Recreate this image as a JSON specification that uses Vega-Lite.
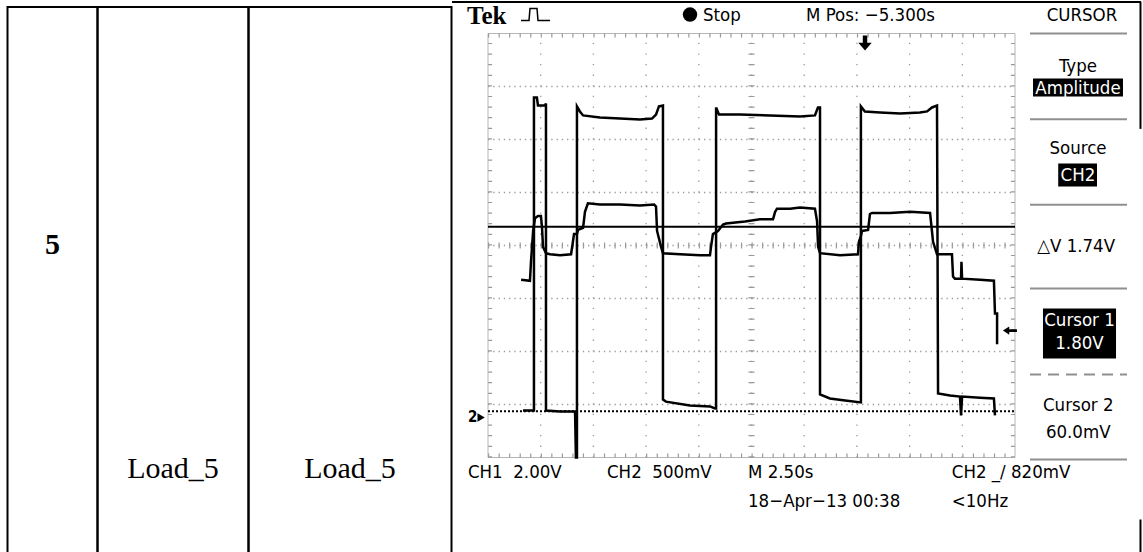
{
  "$schema": "https://vega.github.io/schema/vega-lite/v6.json",
  "background": "white",
  "padding": {"left": 6.5, "top": 0, "right": 0, "bottom": -4},
  "bounds": "flush",
  "spacing": 0,
  "config": {
    "view": {"stroke": "black", "strokeWidth": 2},
    "axis": {"disable": true},
    "legend": {"disable": true}
  },
  "hconcat": [
    {
      "width": 90, "height": 549,
      "data": {"values": [{"label": "5", "pos": 0.434}]},
      "mark": {"type": "text", "font": "Liberation Serif", "fontSize": 30, "fontWeight": "bold", "align": "center", "baseline": "middle", "color": "black"},
      "encoding": {
        "y": {"field": "pos", "type": "quantitative", "scale": {"domain": [0, 1], "reverse": true, "nice": false, "zero": false}},
        "text": {"field": "label"}
      }
    },
    {
      "width": 151, "height": 549,
      "data": {"values": [{"label": "Load_5", "pos": 0.841}]},
      "mark": {"type": "text", "font": "Liberation Serif", "fontSize": 30, "align": "center", "baseline": "middle", "color": "black"},
      "encoding": {
        "y": {"field": "pos", "type": "quantitative", "scale": {"domain": [0, 1], "reverse": true, "nice": false, "zero": false}},
        "text": {"field": "label"}
      }
    },
    {
      "width": 203, "height": 549,
      "data": {"values": [{"label": "Load_5", "pos": 0.841}]},
      "mark": {"type": "text", "font": "Liberation Serif", "fontSize": 30, "align": "center", "baseline": "middle", "color": "black"},
      "encoding": {
        "y": {"field": "pos", "type": "quantitative", "scale": {"domain": [0, 1], "reverse": true, "nice": false, "zero": false}},
        "text": {"field": "label"}
      }
    },
    {
      "width": 689, "height": 549,
      "view": {"stroke": null},
      "resolve": {"scale": {"x": "independent", "y": "independent"}},
      "layer": [
        {
          "layer": [
            {
              "data": {"values": [{"x0": 0, "x1": 10, "y0": 0, "y1": 8}]},
              "mark": {"type": "rect", "fill": "white", "fillOpacity": 0, "stroke": "#b5b5b5", "strokeWidth": 1},
              "encoding": {
                "x": {"field": "x0", "type": "quantitative", "scale": {"domain": [0, 10], "range": [36.5, 563.5], "nice": false, "zero": false}},
                "x2": {"field": "x1"},
                "y": {"field": "y0", "type": "quantitative", "scale": {"domain": [0, 8], "range": [450.5, 26.5], "nice": false, "zero": false}},
                "y2": {"field": "y1"}
              }
            },
            {
              "data": {"values": [{"gx": 1}, {"gx": 2}, {"gx": 3}, {"gx": 4}, {"gx": 5}, {"gx": 6}, {"gx": 7}, {"gx": 8}, {"gx": 9}]},
              "mark": {"type": "rule", "stroke": "#9a9a9a", "strokeWidth": 1.3, "strokeDash": [1.3, 9.3]},
              "encoding": {
                "x": {"field": "gx", "type": "quantitative"},
                "y": {"datum": 0, "type": "quantitative"},
                "y2": {"datum": 8}
              }
            },
            {
              "data": {"values": [{"gy": 1}, {"gy": 2}, {"gy": 3}, {"gy": 4}, {"gy": 5}, {"gy": 6}, {"gy": 7}]},
              "mark": {"type": "rule", "stroke": "#9a9a9a", "strokeWidth": 1.3, "strokeDash": [1.3, 3.97]},
              "encoding": {
                "y": {"field": "gy", "type": "quantitative"},
                "x": {"datum": 0, "type": "quantitative"},
                "x2": {"datum": 10}
              }
            },
            {
              "data": {"values": [{"gy": 4}]},
              "mark": {"type": "rule", "stroke": "#9a9a9a", "strokeWidth": 6, "strokeDash": [1.2, 9.34]},
              "encoding": {
                "y": {"field": "gy", "type": "quantitative"},
                "x": {"datum": 0, "type": "quantitative"},
                "x2": {"datum": 10}
              }
            },
            {
              "data": {"values": [{"gx": 5}]},
              "mark": {"type": "rule", "stroke": "#9a9a9a", "strokeWidth": 6, "strokeDash": [1.2, 9.4]},
              "encoding": {
                "x": {"field": "gx", "type": "quantitative"},
                "y": {"datum": 0, "type": "quantitative"},
                "y2": {"datum": 8}
              }
            },
            {
              "data": {"values": [{"gx": 0.04}, {"gx": 9.96}]},
              "mark": {"type": "rule", "stroke": "#9a9a9a", "strokeWidth": 4, "strokeDash": [1.2, 9.4]},
              "encoding": {
                "x": {"field": "gx", "type": "quantitative"},
                "y": {"datum": 0, "type": "quantitative"},
                "y2": {"datum": 8}
              }
            },
            {
              "data": {"values": [{"gy": 0.04}, {"gy": 7.96}]},
              "mark": {"type": "rule", "stroke": "#9a9a9a", "strokeWidth": 4, "strokeDash": [1.2, 9.34]},
              "encoding": {
                "y": {"field": "gy", "type": "quantitative"},
                "x": {"datum": 0, "type": "quantitative"},
                "x2": {"datum": 10}
              }
            },
            {
              "data": {"values": [{"gy": 8.0}, {"gy": 6.38}, {"gy": 4.77}, {"gy": 3.19}, {"gy": -0.04}]},
              "mark": {"type": "rule", "stroke": "#8f8f8f", "strokeWidth": 2},
              "encoding": {
                "y": {"field": "gy", "type": "quantitative"},
                "x": {"datum": 10.285, "type": "quantitative"},
                "x2": {"datum": 12.125}
              }
            },
            {
              "data": {"values": [{"gy": 1.566}]},
              "mark": {"type": "rule", "stroke": "#8f8f8f", "strokeWidth": 2, "strokeDash": [11, 7]},
              "encoding": {
                "y": {"field": "gy", "type": "quantitative"},
                "x": {"datum": 10.285, "type": "quantitative"},
                "x2": {"datum": 12.125}
              }
            },
            {
              "data": {"values": [
                {"item": "Amplitude", "x0": 10.342, "x1": 12.049, "y0": 6.811, "y1": 7.151},
                {"item": "CH2", "x0": 10.82, "x1": 11.556, "y0": 5.113, "y1": 5.547},
                {"item": "Cursor 1", "x0": 10.531, "x1": 11.917, "y0": 1.868, "y1": 2.811}
              ]},
              "mark": {"type": "rect", "color": "black"},
              "encoding": {
                "x": {"field": "x0", "type": "quantitative"},
                "x2": {"field": "x1"},
                "y": {"field": "y0", "type": "quantitative"},
                "y2": {"field": "y1"}
              }
            },
            {
              "data": {"values": [
                {"label": "Stop", "gx": 4.08, "gy": 8.358},
                {"label": "M Pos: −5.300s", "gx": 6.034, "gy": 8.358},
                {"label": "CH1\u00a0\u00a02.00V", "gx": -0.38, "gy": -0.274},
                {"label": "CH2\u00a0\u00a0500mV", "gx": 2.258, "gy": -0.274},
                {"label": "M 2.50s", "gx": 4.934, "gy": -0.274},
                {"label": "CH2 _/ 820mV", "gx": 8.80, "gy": -0.274},
                {"label": "18−Apr−13 00:38", "gx": 4.934, "gy": -0.83},
                {"label": "<10Hz", "gx": 8.80, "gy": -0.83}
              ]},
              "mark": {"type": "text", "font": "Liberation Sans Narrow, DejaVu Sans Condensed, sans-serif", "fontSize": 18.5, "align": "left", "baseline": "middle", "color": "black"},
              "encoding": {
                "x": {"field": "gx", "type": "quantitative"},
                "y": {"field": "gy", "type": "quantitative"},
                "text": {"field": "label"}
              }
            },
            {
              "data": {"values": [
                {"label": "CURSOR", "gx": 11.27, "gy": 8.358},
                {"label": "Type", "gx": 11.195, "gy": 7.396},
                {"label": "Source", "gx": 11.195, "gy": 5.84},
                {"label": "△V 1.74V", "gx": 11.16, "gy": 4.0},
                {"label": "Cursor 2", "gx": 11.2, "gy": 1.0},
                {"label": "60.0mV", "gx": 11.2, "gy": 0.49}
              ]},
              "mark": {"type": "text", "font": "Liberation Sans Narrow, DejaVu Sans Condensed, sans-serif", "fontSize": 18.5, "align": "center", "baseline": "middle", "color": "black"},
              "encoding": {
                "x": {"field": "gx", "type": "quantitative"},
                "y": {"field": "gy", "type": "quantitative"},
                "text": {"field": "label"}
              }
            },
            {
              "data": {"values": [
                {"label": "Amplitude", "gx": 11.195, "gy": 6.98},
                {"label": "CH2", "gx": 11.195, "gy": 5.33},
                {"label": "Cursor 1", "gx": 11.224, "gy": 2.594},
                {"label": "1.80V", "gx": 11.224, "gy": 2.151}
              ]},
              "mark": {"type": "text", "font": "Liberation Sans Narrow, DejaVu Sans Condensed, sans-serif", "fontSize": 18.5, "align": "center", "baseline": "middle", "color": "white"},
              "encoding": {
                "x": {"field": "gx", "type": "quantitative"},
                "y": {"field": "gy", "type": "quantitative"},
                "text": {"field": "label"}
              }
            },
            {
              "data": {"values": [{"label": "Tek", "gx": -0.398, "gy": 8.33}]},
              "mark": {"type": "text", "font": "Liberation Serif", "fontSize": 25, "fontWeight": "bold", "align": "left", "baseline": "middle", "color": "black"},
              "encoding": {
                "x": {"field": "gx", "type": "quantitative"},
                "y": {"field": "gy", "type": "quantitative"},
                "text": {"field": "label"}
              }
            },
            {
              "data": {"values": [{"gx": 3.833, "gy": 8.358}]},
              "mark": {"type": "point", "shape": "circle", "filled": true, "size": 210, "color": "black", "opacity": 1},
              "encoding": {
                "x": {"field": "gx", "type": "quantitative"},
                "y": {"field": "gy", "type": "quantitative"}
              }
            },
            {
              "data": {"values": [
                {"i": 1, "gx": 0.626, "gy": 8.245},
                {"i": 2, "gx": 0.778, "gy": 8.245},
                {"i": 3, "gx": 0.797, "gy": 8.472},
                {"i": 4, "gx": 0.930, "gy": 8.472},
                {"i": 5, "gx": 0.949, "gy": 8.245},
                {"i": 6, "gx": 1.176, "gy": 8.245}
              ]},
              "mark": {"type": "line", "color": "black", "strokeWidth": 1.5},
              "encoding": {
                "x": {"field": "gx", "type": "quantitative"},
                "y": {"field": "gy", "type": "quantitative"},
                "order": {"field": "i"}
              }
            },
            {
              "data": {"values": [{"gx": 7.154, "gy": 7.82}]},
              "mark": {"type": "point", "shape": "M -0.3 -1 L 0.3 -1 L 0.3 -0.05 L 0.9 -0.05 L 0 1 L -0.9 -0.05 L -0.3 -0.05 Z", "filled": true, "size": 220, "color": "black", "opacity": 1},
              "encoding": {
                "x": {"field": "gx", "type": "quantitative"},
                "y": {"field": "gy", "type": "quantitative"}
              }
            },
            {
              "data": {"values": [{"label": "2", "gx": -0.29, "gy": 0.755}]},
              "mark": {"type": "text", "font": "Liberation Sans Narrow, DejaVu Sans Condensed, sans-serif", "fontSize": 15, "fontWeight": "bold", "align": "center", "baseline": "middle", "color": "black"},
              "encoding": {
                "x": {"field": "gx", "type": "quantitative"},
                "y": {"field": "gy", "type": "quantitative"},
                "text": {"field": "label"}
              }
            },
            {
              "data": {"values": [{"gx": -0.13, "gy": 0.755}]},
              "mark": {"type": "point", "shape": "triangle-right", "filled": true, "size": 70, "color": "black", "opacity": 1},
              "encoding": {
                "x": {"field": "gx", "type": "quantitative"},
                "y": {"field": "gy", "type": "quantitative"}
              }
            },
            {
              "data": {"values": [
                {"x0": -0.683, "x1": 12.39, "y0": 8.594, "y1": 8.594},
                {"x0": 12.381, "x1": 12.381, "y0": 8.6, "y1": 6.2},
                {"x0": 12.381, "x1": 12.381, "y0": -1.17, "y1": -1.85}
              ]},
              "mark": {"type": "rule", "color": "black", "strokeWidth": 2},
              "encoding": {
                "x": {"field": "x0", "type": "quantitative"},
                "x2": {"field": "x1"},
                "y": {"field": "y0", "type": "quantitative"},
                "y2": {"field": "y1"}
              }
            }
          ]
        },
        {
          "data": {"values": [
            {"i": 1, "t": 1.66, "v": 0.26}, {"i": 2, "t": 2.18, "v": 0.26}, {"i": 3, "t": 2.18, "v": 12.08}, {"i": 4, "t": 2.32, "v": 12.08},
            {"i": 5, "t": 2.37, "v": 11.77}, {"i": 6, "t": 2.70, "v": 11.77}, {"i": 7, "t": 2.75, "v": 11.85}, {"i": 8, "t": 2.75, "v": 0.26},
            {"i": 9, "t": 3.42, "v": 0.23}, {"i": 10, "t": 4.13, "v": 0.23}, {"i": 11, "t": 4.17, "v": -1.51}, {"i": 12, "t": 4.22, "v": -1.51},
            {"i": 13, "t": 4.22, "v": 11.74}, {"i": 14, "t": 4.36, "v": 11.55}, {"i": 15, "t": 4.51, "v": 11.40}, {"i": 16, "t": 5.31, "v": 11.32},
            {"i": 17, "t": 6.26, "v": 11.28}, {"i": 18, "t": 7.21, "v": 11.25}, {"i": 19, "t": 7.78, "v": 11.28}, {"i": 20, "t": 7.97, "v": 11.43},
            {"i": 21, "t": 8.11, "v": 11.74}, {"i": 22, "t": 8.30, "v": 11.77}, {"i": 23, "t": 8.30, "v": 0.68}, {"i": 24, "t": 8.44, "v": 0.60},
            {"i": 25, "t": 9.58, "v": 0.45}, {"i": 26, "t": 10.53, "v": 0.42}, {"i": 27, "t": 10.77, "v": 0.34}, {"i": 28, "t": 10.82, "v": 0.34},
            {"i": 29, "t": 10.82, "v": 11.70}, {"i": 30, "t": 10.96, "v": 11.43}, {"i": 31, "t": 11.95, "v": 11.43}, {"i": 32, "t": 13.38, "v": 11.40},
            {"i": 33, "t": 14.80, "v": 11.36}, {"i": 34, "t": 15.51, "v": 11.40}, {"i": 35, "t": 15.65, "v": 11.70}, {"i": 36, "t": 15.75, "v": 11.70},
            {"i": 37, "t": 15.75, "v": 0.87}, {"i": 38, "t": 16.22, "v": 0.72}, {"i": 39, "t": 16.94, "v": 0.64}, {"i": 40, "t": 17.69, "v": 0.57},
            {"i": 41, "t": 17.69, "v": 11.74}, {"i": 42, "t": 17.88, "v": 11.55}, {"i": 43, "t": 18.60, "v": 11.51}, {"i": 44, "t": 19.55, "v": 11.47},
            {"i": 45, "t": 20.49, "v": 11.51}, {"i": 46, "t": 20.83, "v": 11.55}, {"i": 47, "t": 21.06, "v": 11.70}, {"i": 48, "t": 21.30, "v": 11.77},
            {"i": 49, "t": 21.35, "v": 0.91}, {"i": 50, "t": 21.92, "v": 0.83}, {"i": 51, "t": 22.39, "v": 0.79}, {"i": 52, "t": 22.44, "v": 0.08},
            {"i": 53, "t": 22.49, "v": 0.79}, {"i": 54, "t": 23.34, "v": 0.75}, {"i": 55, "t": 24.00, "v": 0.72}, {"i": 56, "t": 24.05, "v": 0.08}
          ]},
          "mark": {"type": "line", "color": "black", "strokeWidth": 2.5},
          "encoding": {
            "x": {"field": "t", "type": "quantitative", "scale": {"domain": [0, 25], "range": [36.5, 563.5], "nice": false, "zero": false}},
            "y": {"field": "v", "type": "quantitative", "scale": {"domain": [-1.509, 14.491], "range": [450.5, 26.5], "nice": false, "zero": false}},
            "order": {"field": "i"}
          }
        },
        {
          "layer": [
            {
              "data": {"values": [
                {"i": 1, "t": 1.57, "v": 1.30}, {"i": 2, "t": 1.99, "v": 1.29}, {"i": 3, "t": 2.04, "v": 1.47}, {"i": 4, "t": 2.14, "v": 1.76},
                {"i": 5, "t": 2.23, "v": 1.88}, {"i": 6, "t": 2.37, "v": 1.90}, {"i": 7, "t": 2.51, "v": 1.90}, {"i": 8, "t": 2.56, "v": 1.80},
                {"i": 9, "t": 2.61, "v": 1.61}, {"i": 10, "t": 2.75, "v": 1.55}, {"i": 11, "t": 2.94, "v": 1.54}, {"i": 12, "t": 3.42, "v": 1.53},
                {"i": 13, "t": 3.94, "v": 1.54}, {"i": 14, "t": 4.03, "v": 1.66}, {"i": 15, "t": 4.08, "v": 1.73}, {"i": 16, "t": 4.22, "v": 1.73},
                {"i": 17, "t": 4.27, "v": 1.77}, {"i": 18, "t": 4.51, "v": 1.79}, {"i": 19, "t": 4.60, "v": 1.94}, {"i": 20, "t": 4.74, "v": 2.02},
                {"i": 21, "t": 5.31, "v": 2.01}, {"i": 22, "t": 6.26, "v": 2.01}, {"i": 23, "t": 7.21, "v": 2.00}, {"i": 24, "t": 7.88, "v": 2.01},
                {"i": 25, "t": 7.97, "v": 1.99}, {"i": 26, "t": 8.02, "v": 1.76}, {"i": 27, "t": 8.21, "v": 1.61}, {"i": 28, "t": 8.30, "v": 1.55},
                {"i": 29, "t": 9.11, "v": 1.54}, {"i": 30, "t": 10.06, "v": 1.53}, {"i": 31, "t": 10.53, "v": 1.53}, {"i": 32, "t": 10.58, "v": 1.61},
                {"i": 33, "t": 10.67, "v": 1.73}, {"i": 34, "t": 10.91, "v": 1.76}, {"i": 35, "t": 11.15, "v": 1.82}, {"i": 36, "t": 11.29, "v": 1.83},
                {"i": 37, "t": 12.19, "v": 1.85}, {"i": 38, "t": 12.90, "v": 1.87}, {"i": 39, "t": 13.52, "v": 1.87}, {"i": 40, "t": 13.62, "v": 1.94},
                {"i": 41, "t": 13.71, "v": 1.97}, {"i": 42, "t": 14.33, "v": 1.97}, {"i": 43, "t": 14.80, "v": 1.98}, {"i": 44, "t": 15.51, "v": 1.97},
                {"i": 45, "t": 15.61, "v": 1.85}, {"i": 46, "t": 15.66, "v": 1.61}, {"i": 47, "t": 15.75, "v": 1.55}, {"i": 48, "t": 16.70, "v": 1.53},
                {"i": 49, "t": 17.55, "v": 1.54}, {"i": 50, "t": 17.60, "v": 1.66}, {"i": 51, "t": 17.69, "v": 1.71}, {"i": 52, "t": 17.74, "v": 1.76},
                {"i": 53, "t": 18.03, "v": 1.77}, {"i": 54, "t": 18.12, "v": 1.92}, {"i": 55, "t": 18.22, "v": 1.93}, {"i": 56, "t": 19.07, "v": 1.93},
                {"i": 57, "t": 20.02, "v": 1.94}, {"i": 58, "t": 20.97, "v": 1.93}, {"i": 59, "t": 21.06, "v": 1.76}, {"i": 60, "t": 21.11, "v": 1.66},
                {"i": 61, "t": 21.30, "v": 1.54}, {"i": 62, "t": 22.01, "v": 1.54}, {"i": 63, "t": 22.06, "v": 1.33}, {"i": 64, "t": 22.15, "v": 1.31},
                {"i": 65, "t": 22.44, "v": 1.31}, {"i": 66, "t": 22.46, "v": 1.47}, {"i": 67, "t": 22.49, "v": 1.31}, {"i": 68, "t": 23.34, "v": 1.30},
                {"i": 69, "t": 24.00, "v": 1.29}, {"i": 70, "t": 24.05, "v": 0.98}, {"i": 71, "t": 24.15, "v": 0.98}, {"i": 72, "t": 24.15, "v": 0.69}
              ]},
              "mark": {"type": "line", "color": "black", "strokeWidth": 2.5},
              "encoding": {
                "x": {"field": "t", "type": "quantitative", "scale": {"domain": [0, 25], "range": [36.5, 563.5], "nice": false, "zero": false}},
                "y": {"field": "v", "type": "quantitative", "scale": {"domain": [-0.3774, 3.6226], "range": [450.5, 26.5], "nice": false, "zero": false}},
                "order": {"field": "i"}
              }
            },
            {
              "data": {"values": [{"cursor": "Cursor 1", "v": 1.80}]},
              "mark": {"type": "rule", "color": "black", "strokeWidth": 2},
              "encoding": {
                "y": {"field": "v", "type": "quantitative"},
                "x": {"datum": 0, "type": "quantitative"},
                "x2": {"datum": 25}
              }
            },
            {
              "data": {"values": [{"cursor": "Cursor 2", "v": 0.06}]},
              "mark": {"type": "rule", "color": "black", "strokeWidth": 2, "strokeDash": [2, 2]},
              "encoding": {
                "y": {"field": "v", "type": "quantitative"},
                "x": {"datum": 0, "type": "quantitative"},
                "x2": {"datum": 25}
              }
            },
            {
              "data": {"values": [{"marker": "trigger level", "t": 24.76, "v": 0.82}]},
              "mark": {"type": "point", "shape": "M -1 0 L -0.1 -0.6 L -0.1 -0.2 L 1 -0.2 L 1 0.2 L -0.1 0.2 L -0.1 0.6 Z", "filled": true, "size": 196, "color": "black", "opacity": 1},
              "encoding": {
                "x": {"field": "t", "type": "quantitative"},
                "y": {"field": "v", "type": "quantitative"}
              }
            }
          ]
        }
      ]
    }
  ]
}
